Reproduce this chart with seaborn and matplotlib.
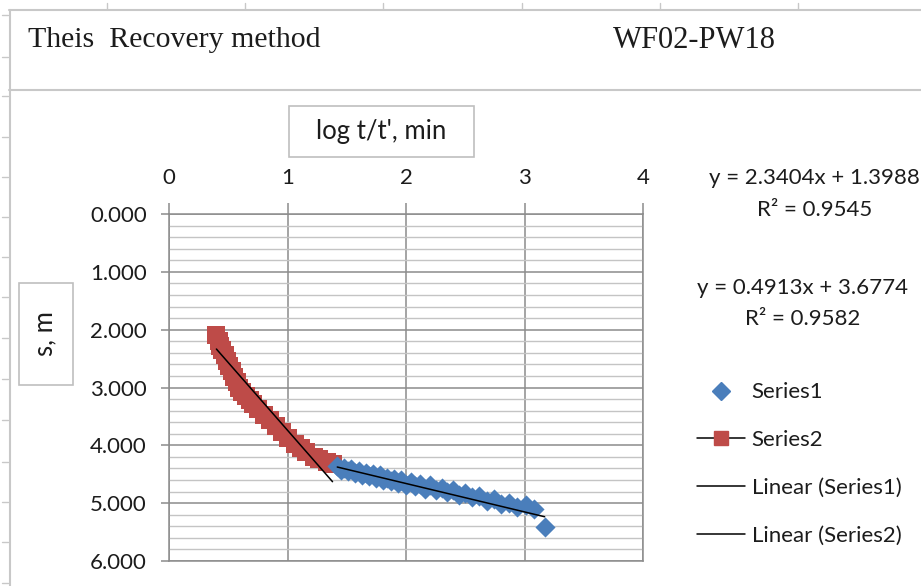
import numpy as np
import pandas as pd
import matplotlib
matplotlib.use("Agg")
import matplotlib.pyplot as plt
import seaborn as sns
from matplotlib.lines import Line2D
from matplotlib.patches import Rectangle
from matplotlib.ticker import MultipleLocator, FormatStrFormatter

# ---------------- data ----------------
series1_x = [1.42, 1.45, 1.48, 1.51, 1.54, 1.57, 1.60, 1.63, 1.66, 1.69, 1.72, 1.75,
             1.78, 1.81, 1.84, 1.87, 1.90, 1.93, 1.96, 2.00, 2.04, 2.08, 2.12, 2.16,
             2.20, 2.25, 2.30, 2.35, 2.40, 2.45, 2.50, 2.56, 2.62, 2.68, 2.74, 2.80,
             2.87, 2.94, 3.01, 3.08, 3.17]
series1_y = [4.36, 4.42, 4.39, 4.44, 4.41, 4.48, 4.44, 4.51, 4.47, 4.53, 4.50, 4.57,
             4.52, 4.60, 4.56, 4.62, 4.58, 4.65, 4.60, 4.68, 4.64, 4.71, 4.67, 4.75,
             4.69, 4.78, 4.73, 4.81, 4.77, 4.86, 4.82, 4.90, 4.88, 4.96, 4.93, 5.02,
             4.99, 5.07, 5.04, 5.10, 5.42]

series2_x = [0.40, 0.42, 0.43, 0.45, 0.47, 0.49, 0.51, 0.53, 0.55, 0.57, 0.59, 0.62,
             0.65, 0.68, 0.71, 0.75, 0.80, 0.85, 0.90, 0.95, 1.00, 1.06, 1.11, 1.16,
             1.22, 1.27, 1.33, 1.38]
series2_y = [2.10, 2.20, 2.28, 2.35, 2.44, 2.54, 2.63, 2.72, 2.81, 2.90, 3.00, 3.07,
             3.14, 3.21, 3.29, 3.37, 3.48, 3.57, 3.67, 3.77, 3.87, 3.98, 4.05, 4.12,
             4.20, 4.24, 4.29, 4.33]

# trendline coefficients as printed on the chart
fit_a_slope, fit_a_intercept, fit_a_r2 = 2.3404, 1.3988, 0.9545   # red series
fit_b_slope, fit_b_intercept, fit_b_r2 = 0.4913, 3.6774, 0.9582   # blue series

x_ticks = [0, 1, 2, 3, 4]
y_ticks = [0, 1, 2, 3, 4, 5, 6]

title_left = "Theis  Recovery method"
title_right = "WF02-PW18"
x_title = "log t/t', min"
y_title = "s, m"
legend_labels = ["Series1", "Series2", "Linear (Series1)", "Linear (Series2)"]

# ---------------- style ----------------
sns.set_theme(style="white")
plt.rcParams["font.family"] = ["Lato", "DejaVu Sans"]

BLUE = "#4A7EBB"
RED = "#BE4B48"
GRID_MAJ = "#8c8c8c"
GRID_MIN = "#c4c4c4"
FRAME = "#c8c8c8"
TXT = "#1c1c1c"

W, H = 921, 586
fig = plt.figure(figsize=(W / 100, H / 100), dpi=100)
fig.patch.set_facecolor("white")


def fx(px):
    return px / W


def fy(py):
    return 1 - py / H


# spreadsheet frame decorations
def fline(xs, ys, color=FRAME, lw=1.5):
    fig.add_artist(Line2D([fx(v) for v in xs], [fy(v) for v in ys],
                          transform=fig.transFigure, color=color, lw=lw))


fline([9, W], [10, 10])
fline([9, W], [90, 90])
fline([9.5, 9.5], [10, H])
for tx in [107, 245, 383, 522, 660, 798]:
    fline([tx, tx], [3, 9], lw=1.0)
for ty in [15, 57, 96, 137, 177, 217, 257, 297, 338, 379, 420, 462, 502, 542, 583]:
    fline([2, 8], [ty, ty], lw=1.0)

fig.text(fx(28), fy(40), title_left, family="Liberation Serif", fontsize=21.5,
         color=TXT, ha="left", va="center")
fig.text(fx(613), fy(40), title_right, family="Liberation Serif", fontsize=22,
         color=TXT, ha="left", va="center")

# ---------------- axes ----------------
ax = fig.add_axes([fx(169), fy(561), fx(643) - fx(169), fy(214) - fy(561)])
ax.set_facecolor("white")

df1 = pd.DataFrame({"x": series1_x, "y": series1_y})
df2 = pd.DataFrame({"x": series2_x, "y": series2_y})

sns.scatterplot(data=df2, x="x", y="y", marker="s", s=150, color=RED,
                edgecolor=RED, linewidth=0, ax=ax, zorder=3)
sns.scatterplot(data=df1, x="x", y="y", marker="D", s=105, color=BLUE,
                edgecolor=BLUE, linewidth=0, ax=ax, zorder=4)

xa = np.array([min(series2_x), max(series2_x)])
xb = np.array([min(series1_x), max(series1_x)])
trend = pd.DataFrame({
    "x": np.concatenate([xa, xb]),
    "y": np.concatenate([fit_a_slope * xa + fit_a_intercept,
                         fit_b_slope * xb + fit_b_intercept]),
    "g": ["a", "a", "b", "b"],
})
sns.lineplot(data=trend, x="x", y="y", units="g", estimator=None, color="black",
             lw=1.1, ax=ax, zorder=5, legend=False)

ax.set_xlim(x_ticks[0], x_ticks[-1])
ax.set_ylim(y_ticks[-1], y_ticks[0])
ax.set_xticks(x_ticks)
ax.set_yticks(y_ticks)
ax.yaxis.set_minor_locator(MultipleLocator(0.2))
ax.yaxis.set_major_formatter(FormatStrFormatter("%.3f"))
ax.xaxis.tick_top()
ax.set_xlabel("")
ax.set_ylabel("")

ax.grid(which="major", color=GRID_MAJ, lw=1.1)
ax.grid(which="minor", axis="y", color=GRID_MIN, lw=1.0)
ax.set_axisbelow(True)
for sp in ax.spines.values():
    sp.set_visible(True)
    sp.set_color(GRID_MAJ)
    sp.set_linewidth(1.1)

ax.tick_params(axis="x", which="major", top=True, bottom=False, direction="out",
               length=8, width=1.1, color=GRID_MAJ, pad=11, labelsize=16,
               labelcolor=TXT)
ax.tick_params(axis="y", which="major", left=True, direction="out", length=6,
               width=1.1, color=GRID_MAJ, pad=10, labelsize=16, labelcolor=TXT)
ax.tick_params(axis="y", which="minor", length=0)

# axis title boxes
fig.add_artist(Rectangle((fx(289), fy(157)), fx(474) - fx(289), fy(106) - fy(157),
                         transform=fig.transFigure, facecolor="white",
                         edgecolor="#bfbfbf", lw=1.2))
fig.text(fx(381.5), fy(131), x_title, fontsize=18.5, color=TXT, ha="center",
         va="center")
fig.add_artist(Rectangle((fx(19), fy(385)), fx(73) - fx(19), fy(283) - fy(385),
                         transform=fig.transFigure, facecolor="white",
                         edgecolor="#bfbfbf", lw=1.2))
fig.text(fx(45), fy(334), y_title, fontsize=18.5, color=TXT, ha="center",
         va="center", rotation=90)

# trendline equations
fig.text(fx(814), fy(178), f"y = {fit_a_slope:.4f}x + {fit_a_intercept:.4f}",
         fontsize=16, color=TXT, ha="center", va="center")
fig.text(fx(815), fy(210), f"R² = {fit_a_r2:.4f}", fontsize=16, color=TXT,
         ha="center", va="center")
fig.text(fx(802), fy(288), f"y = {fit_b_slope:.4f}x + {fit_b_intercept:.4f}",
         fontsize=16, color=TXT, ha="center", va="center")
fig.text(fx(803), fy(319), f"R² = {fit_b_r2:.4f}", fontsize=16, color=TXT,
         ha="center", va="center")

# legend
handles = [
    Line2D([], [], ls="none", marker="D", ms=9, color=BLUE),
    Line2D([], [], color="black", lw=1.1, marker="s", ms=10.5, mfc=RED, mec=RED),
    Line2D([], [], color="black", lw=1.1),
    Line2D([], [], color="black", lw=1.1),
]
leg = ax.legend(handles, legend_labels, loc="center left",
                bbox_to_anchor=(fx(697), fy(464)), bbox_transform=fig.transFigure,
                frameon=False, fontsize=16, handlelength=2.16, handletextpad=0.3,
                labelspacing=1.25, borderpad=0, borderaxespad=0)
for t in leg.get_texts():
    t.set_color(TXT)

fig.savefig("out.png", dpi=100, facecolor="white")
